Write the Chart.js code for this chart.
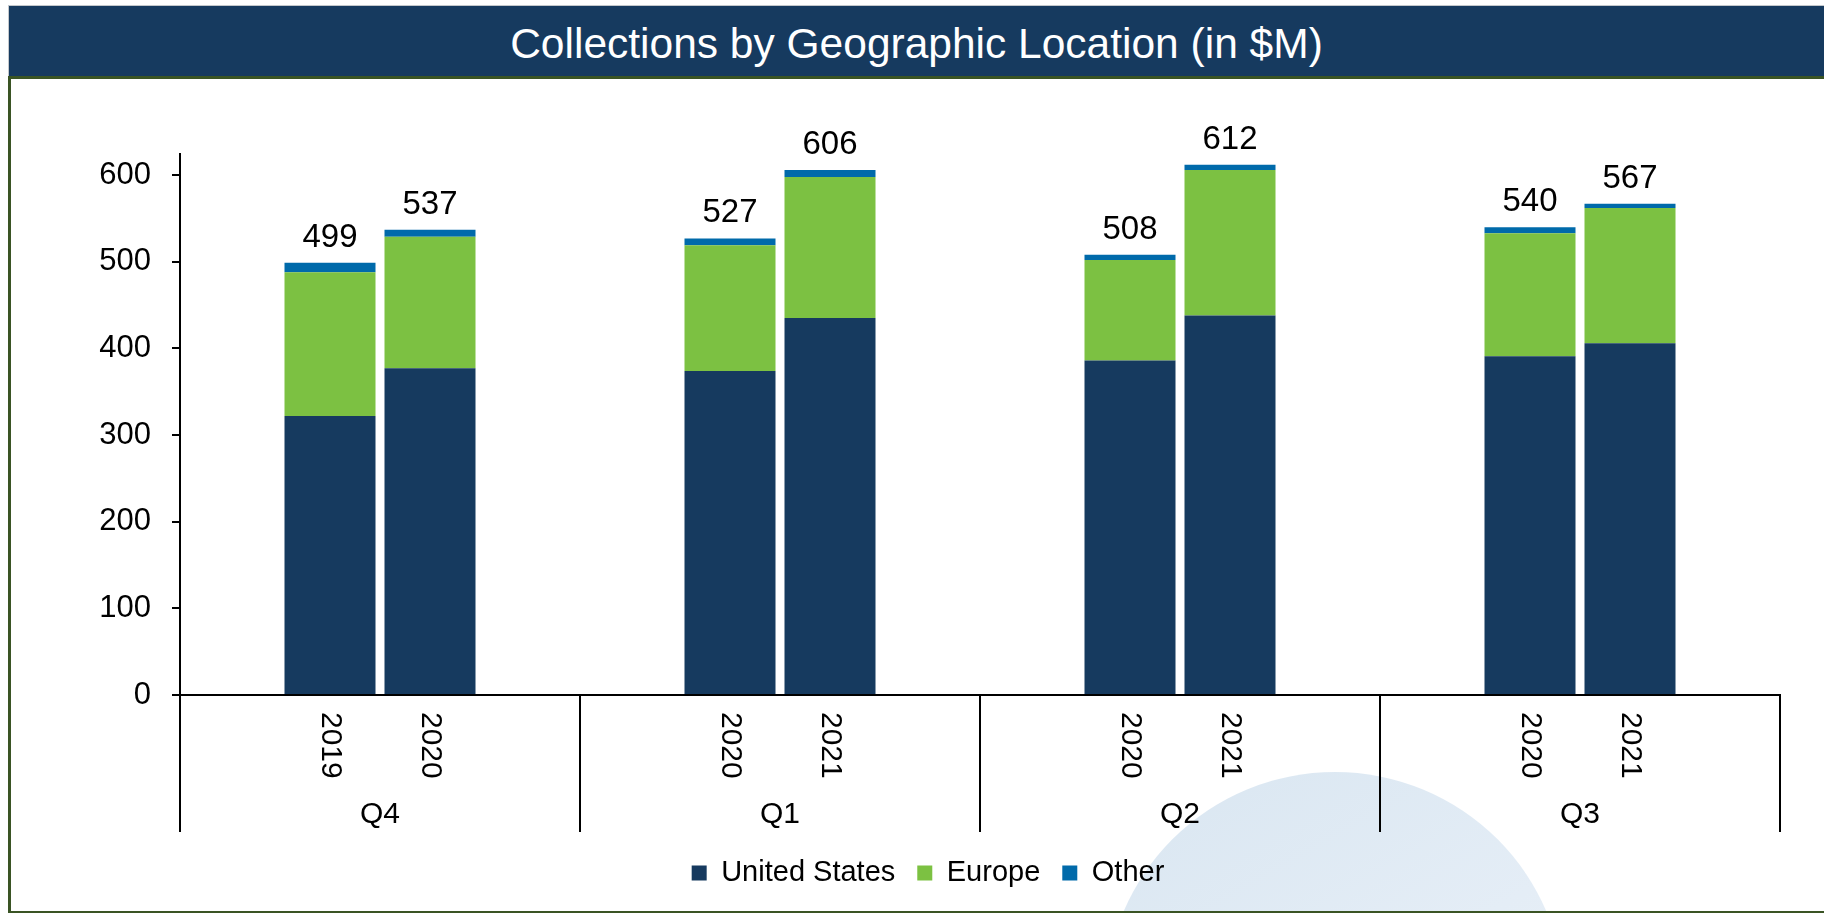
<!DOCTYPE html>
<html>
<head>
    <title>Collections by Geographic Location</title>
    <style>
        body {
            margin: 0;
            width: 1824px;
            height: 914px;
            overflow: hidden;
            background: #fff;
            font-family: "Liberation Sans", Arial, sans-serif;
            position: relative;
        }
        #titleBar {
            position: absolute;
            left: 8px;
            top: 5px;
            width: 1816px;
            height: 71px;
            background: #163a5f;
            border-top: 1px solid #c4c8cc;
            border-left: 1px solid #c4c8cc;
            box-sizing: border-box;
            color: #fff;
            font-size: 42.5px;
            text-align: center;
            line-height: 76px;
        }
        #frame {
            position: absolute;
            left: 8px;
            top: 76px;
            width: 1820px;
            height: 837px;
            border-top: 3px solid #3a5424;
            border-left: 3px solid #3a5424;
            border-bottom: 2px solid #3a5424;
            box-sizing: border-box;
        }
        #bubble {
            position: absolute;
            left: 1105px;
            top: 772px;
            width: 460px;
            height: 460px;
            border-radius: 50%;
            background: linear-gradient(150deg, #d9e6f1 0%, #e4edf6 50%, #eef4f9 100%);
        }
        #clip {
            position: absolute;
            left: 0;
            top: 0;
            width: 1824px;
            height: 911px;
            overflow: hidden;
        }
        .chart-container {
            position: absolute;
            left: 11px;
            top: 79px;
            width: 1813px;
            height: 832px;
        }
    </style>
    <script src="https://cdn.jsdelivr.net/npm/chart.js"></script>
</head>
<body>
    <div id="clip"><div id="bubble"></div></div>
    <div id="titleBar">Collections by Geographic Location (in $M)</div>
    <div id="frame"></div>

    <div class="chart-container">
        <canvas id="geoChart" width="1813" height="832"></canvas>
    </div>

    <script>
        // quarters and the two years shown in each
        const quarters = ['Q4', 'Q1', 'Q2', 'Q3'];
        const years = ['2019', '2020', '2020', '2021', '2020', '2021', '2020', '2021'];

        // values in $M
        const unitedStates = [322, 377, 374, 435, 386, 438, 391, 406];
        const europe = [166, 152, 145, 163, 116, 168, 142, 156];
        const other = [11, 8, 8, 8, 6, 6, 7, 5];
        const totals = [499, 537, 527, 606, 508, 612, 540, 567];

        const yTicks = [0, 100, 200, 300, 400, 500, 600];

        const FONT = '"Liberation Sans", Arial, sans-serif';
        Chart.defaults.font.family = FONT;
        Chart.defaults.color = '#000';

        // each quarter gets 4 slots: empty, year A, year B, empty
        function toSlots(values) {
            const out = [];
            quarters.forEach((q, g) => {
                out.push(null, values[g * 2], values[g * 2 + 1], null);
            });
            return out;
        }
        const slotLabels = [];
        quarters.forEach((q, g) => {
            slotLabels.push('', years[g * 2], years[g * 2 + 1], '');
        });

        // draws totals, the rotated year labels, quarter labels and separators
        const categoryPlugin = {
            id: 'categoryPlugin',
            afterDatasetsDraw(chart) {
                const ctx = chart.ctx;
                const xScale = chart.scales.x;
                const area = chart.chartArea;
                const topMeta = chart.getDatasetMeta(2);

                ctx.save();
                ctx.fillStyle = '#000';
                ctx.font = '33px ' + FONT;
                ctx.textAlign = 'center';
                ctx.textBaseline = 'alphabetic';
                totals.forEach((t, i) => {
                    const slot = Math.floor(i / 2) * 4 + 1 + (i % 2);
                    const bar = topMeta.data[slot];
                    ctx.fillText(String(t), bar.x, bar.y - 16);
                });

                // year labels, rotated clockwise
                ctx.font = '30px ' + FONT;
                years.forEach((y, i) => {
                    const slot = Math.floor(i / 2) * 4 + 1 + (i % 2);
                    const x = xScale.getPixelForValue(slot);
                    ctx.save();
                    ctx.translate(x, area.bottom + 17);
                    ctx.rotate(Math.PI / 2);
                    ctx.textAlign = 'left';
                    ctx.textBaseline = 'middle';
                    ctx.fillText(y, 0, 0);
                    ctx.restore();
                });

                // quarter labels
                ctx.textAlign = 'center';
                ctx.textBaseline = 'middle';
                quarters.forEach((q, g) => {
                    const x = (xScale.getPixelForValue(g * 4 + 1) + xScale.getPixelForValue(g * 4 + 2)) / 2;
                    ctx.fillText(q, x, area.bottom + 120);
                });

                // group separators (first one continues the y axis)
                ctx.strokeStyle = '#000';
                ctx.lineWidth = 2;
                const half = (xScale.getPixelForValue(1) - xScale.getPixelForValue(0)) / 2;
                for (let g = 0; g <= quarters.length; g++) {
                    let x;
                    if (g === 0) x = area.left;
                    else if (g === quarters.length) x = area.right;
                    else x = xScale.getPixelForValue(g * 4) - half;
                    ctx.beginPath();
                    ctx.moveTo(x, area.bottom);
                    ctx.lineTo(x, area.bottom + 137);
                    ctx.stroke();
                }
                ctx.restore();
            }
        };

        const ctx = document.getElementById('geoChart').getContext('2d');
        new Chart(ctx, {
            type: 'bar',
            data: {
                labels: slotLabels,
                datasets: [{
                    label: 'United States',
                    data: toSlots(unitedStates),
                    backgroundColor: '#163a5f'
                }, {
                    label: 'Europe',
                    data: toSlots(europe),
                    backgroundColor: '#7cc142'
                }, {
                    label: 'Other',
                    data: toSlots(other),
                    backgroundColor: '#006aaa'
                }]
            },
            options: {
                responsive: false,
                animation: false,
                barPercentage: 0.91,
                categoryPercentage: 1,
                layout: {
                    padding: { left: 65, right: 44, top: 74.5, bottom: 13.5 }
                },
                scales: {
                    x: {
                        stacked: true,
                        grid: { display: false },
                        ticks: { display: false },
                        border: { display: true, color: '#000', width: 2 },
                        afterFit: function(scale) { scale.height = 141.5; }
                    },
                    y: {
                        stacked: true,
                        min: 0,
                        max: 625,
                        afterBuildTicks: function(scale) {
                            scale.ticks = yTicks.map(v => ({ value: v }));
                        },
                        grid: {
                            drawOnChartArea: false,
                            drawTicks: true,
                            tickLength: 8,
                            color: '#000',
                            lineWidth: 2
                        },
                        border: { display: true, color: '#000', width: 2 },
                        ticks: {
                            padding: 21,
                            font: { size: 31 }
                        },
                        afterFit: function(scale) { scale.width = 104; }
                    }
                },
                plugins: {
                    legend: {
                        position: 'bottom',
                        labels: {
                            boxWidth: 15,
                            boxHeight: 15,
                            padding: 22,
                            font: { size: 29 }
                        }
                    },
                    tooltip: { enabled: false }
                }
            },
            plugins: [categoryPlugin]
        });
    </script>
</body>
</html>
